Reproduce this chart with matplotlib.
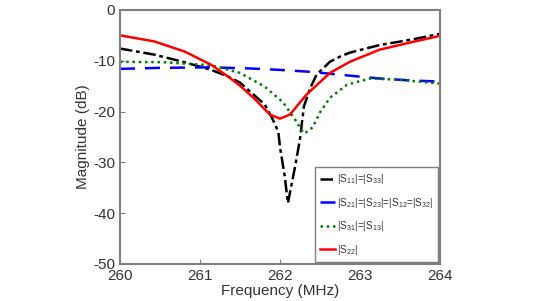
import matplotlib
matplotlib.use('Agg')
import matplotlib.pyplot as plt

plt.rcParams['font.family'] = ['Liberation Sans', 'DejaVu Sans']
plt.rcParams['mathtext.fontset'] = 'custom'
plt.rcParams['mathtext.rm'] = 'Liberation Sans'
plt.rcParams['mathtext.it'] = 'Liberation Sans'
plt.rcParams['axes.unicode_minus'] = False

# |S11|=|S33|
f11 = [260, 260.43, 260.81, 261.14, 261.35, 261.5, 261.81, 261.9, 261.98, 262.0,
       262.06, 262.1, 262.19, 262.25, 262.3, 262.375, 262.46, 262.625, 262.75,
       262.875, 263.25, 263.66, 264]
s11 = [-7.6, -8.8, -10.3, -11.8, -13.1, -14.3, -18.6, -21.2, -24.0, -26.9,
       -32.7, -38.0, -30.8, -25.5, -19.0, -15.5, -12.7, -10.2, -9.2,
       -8.4, -6.9, -5.8, -4.7]

# |S21|=|S23|=|S12|=|S32|
f21 = [260, 260.5, 261.1, 261.6, 262.0, 262.4, 262.85, 263.25, 263.66, 264]
s21 = [-11.6, -11.4, -11.3, -11.5, -11.8, -12.2, -12.9, -13.5, -13.9, -14.1]

# |S31|=|S13|
f31 = [260, 260.56, 261.14, 261.5, 261.81, 262.04, 262.19, 262.29, 262.31, 262.41,
       262.5, 262.625, 262.84, 263.125, 263.46, 264]
s31 = [-10.2, -10.3, -10.9, -12.4, -15.1, -18.2, -21.6, -24.1, -24.3, -23.1,
       -20.2, -17.3, -14.7, -13.5, -13.7, -14.5]

# |S22|
f22 = [260, 260.43, 260.81, 261.14, 261.35, 261.5, 261.69, 261.875, 262.0,
       262.125, 262.33, 262.625, 262.875, 263.25, 263.66, 264]
s22 = [-5.0, -6.2, -8.2, -10.8, -13.1, -14.9, -17.6, -20.6, -21.4,
       -20.6, -16.7, -12.4, -10.2, -7.8, -6.3, -5.1]

fig = plt.figure(figsize=(5.34, 3.01), dpi=100)
ax = fig.add_axes([0.2247, 0.123, 0.599, 0.844])

ax.plot(f11, s11, color='black', lw=1.8, dashes=(5, 1.5, 1.5, 1.5),
        label=r'|S$_{11}$|=|S$_{33}$|')
ax.plot(f21, s21, color='#0000ff', lw=1.8, dashes=(6, 4),
        label=r'|S$_{21}$|=|S$_{23}$|=|S$_{12}$=|S$_{32}$|')
ax.plot(f31, s31, color='#008000', lw=1.8, dashes=(1, 1.5),
        label=r'|S$_{31}$|=|S$_{13}$|')
ax.plot(f22, s22, color='#ff0000', lw=1.8, label=r'|S$_{22}$|')

ax.set_xlim(260, 264)
ax.set_ylim(-50, 0)
ax.set_xticks([260, 261, 262, 263, 264])
ax.set_yticks([0, -10, -20, -30, -40, -50])
ax.tick_params(direction='in', labelsize=11, colors='#808080', labelcolor='#333333')
for sp in ax.spines.values():
    sp.set_color('#808080')
    sp.set_linewidth(1.5)
ax.set_xlabel('Frequency (MHz)', fontsize=11, color='#333333', labelpad=1)
ax.set_ylabel('Magnitude (dB)', fontsize=11, color='#333333', labelpad=2)

leg = ax.legend(loc='lower right', fontsize=7.2, handlelength=1.5, handletextpad=0.2,
                borderpad=0.5, labelspacing=0.95, fancybox=False, framealpha=1,
                borderaxespad=0.2)
leg.get_frame().set_edgecolor('#808080')
for t in leg.get_texts():
    t.set_color('#333333')

fig.savefig('out.png', dpi=100)
